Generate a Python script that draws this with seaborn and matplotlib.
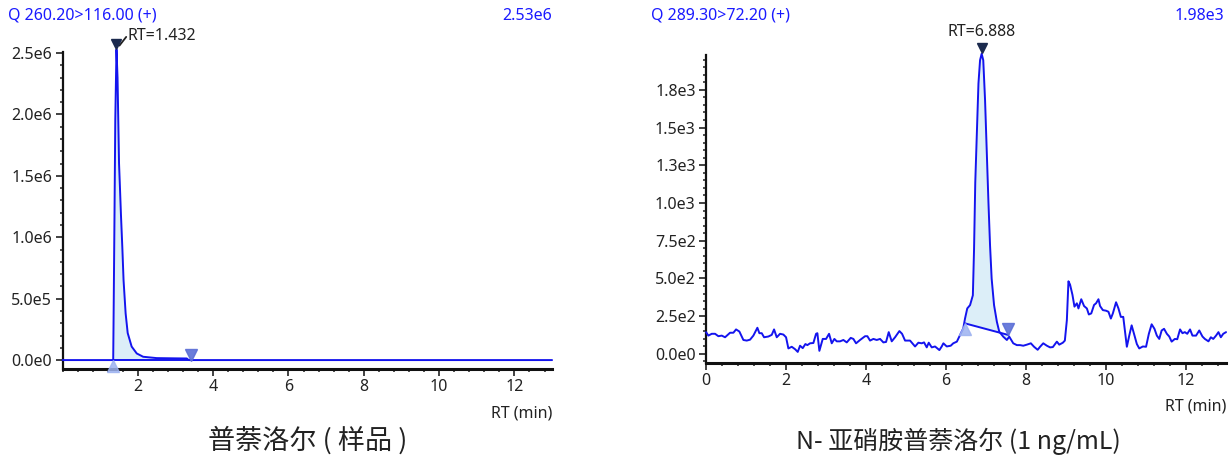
import numpy as np
import matplotlib
matplotlib.use("Agg")
import matplotlib.pyplot as plt
import matplotlib.transforms as mtransforms
from matplotlib.ticker import MultipleLocator
import seaborn as sns

# --- left: 普萘洛尔（样品）, Q 260.20>116.00 ---
left_rt = [0.0, 1.30, 1.345, 1.36, 1.38, 1.40, 1.432, 1.46, 1.48, 1.50, 1.525, 1.55,
           1.587, 1.62, 1.675, 1.73, 1.835, 1.97, 2.14, 2.5, 3.0, 3.3, 3.35, 13.0]
left_int = [0, 0, 0, 5e5, 1.2e6, 1.95e6, 2.53e6, 2.3e6, 1.95e6, 1.6e6, 1.4e6, 1.19e6,
            9.2e5, 6.5e5, 3.8e5, 2.2e5, 1.1e5, 5.4e4, 2.7e4, 1.6e4, 1.4e4, 1.3e4, 0, 0]
left_peak_rt = 1.432
left_limits = [1.33, 3.42]
left_base = [0, 0]
left_yticks = [0, 5e5, 1e6, 1.5e6, 2e6, 2.5e6]
left_yticklabels = ["0.0e0", "5.0e5", "1.0e6", "1.5e6", "2.0e6", "2.5e6"]
left_xticks = [2, 4, 6, 8, 10, 12]

# --- right: N-亚硝胺普萘洛尔 (1 ng/mL), Q 289.30>72.20 ---
right_rt = [0.0, 0.058, 0.142, 0.225, 0.308, 0.392, 0.475, 0.6, 0.683, 0.75, 0.833, 0.933,
            1.017, 1.1, 1.183, 1.283, 1.333, 1.392, 1.45, 1.558, 1.642, 1.7, 1.767, 1.85,
            1.933, 2.0, 2.058, 2.142, 2.225, 2.292, 2.35, 2.417, 2.483, 2.533, 2.6, 2.683,
            2.75, 2.783, 2.833, 2.917, 3.0, 3.075, 3.142, 3.208, 3.267, 3.35, 3.433, 3.517,
            3.617, 3.683, 3.75, 3.85, 3.975, 4.033, 4.1, 4.183, 4.267, 4.35, 4.433, 4.5,
            4.567, 4.642, 4.725, 4.833, 4.9, 4.975, 5.1, 5.225, 5.308, 5.392, 5.45, 5.517,
            5.567, 5.642, 5.725, 5.833, 5.892, 5.933, 6.017, 6.117, 6.18, 6.27, 6.35, 6.43,
            6.475, 6.53, 6.6, 6.67, 6.70, 6.73, 6.77, 6.81, 6.85, 6.89, 6.93, 6.975, 7.02,
            7.06, 7.1, 7.14, 7.2, 7.27, 7.33, 7.43, 7.52, 7.58, 7.68, 7.77, 7.85, 7.93,
            8.02, 8.12, 8.2, 8.29, 8.35, 8.43, 8.52, 8.6, 8.67, 8.77, 8.83, 8.92, 8.97,
            9.02, 9.06, 9.1, 9.16, 9.21, 9.27, 9.31, 9.38, 9.45, 9.52, 9.57, 9.63, 9.7,
            9.75, 9.81, 9.85, 9.92, 10.0, 10.06, 10.12, 10.17, 10.25, 10.31, 10.37, 10.43,
            10.48, 10.52, 10.58, 10.64, 10.7, 10.77, 10.83, 10.92, 11.0, 11.07, 11.14,
            11.21, 11.27, 11.33, 11.39, 11.45, 11.52, 11.58, 11.64, 11.72, 11.78, 11.85,
            11.91, 11.97, 12.03, 12.1, 12.16, 12.25, 12.33, 12.41, 12.47, 12.56, 12.62,
            12.68, 12.75, 12.81, 12.87, 12.93, 13.0]
right_int = [144, 121, 133, 133, 117, 121, 110, 140, 140, 162, 148, 92,
             88, 94, 121, 173, 137, 137, 110, 115, 126, 162, 110, 133,
             128, 110, 36, 47, 31, 13, 54, 38, 65, 58, 70, 72,
             133, 137, 20, 99, 99, 133, 70, 99, 83, 83, 92, 76,
             106, 99, 70, 92, 117, 117, 88, 99, 92, 99, 76, 79,
             144, 83, 110, 151, 133, 88, 88, 49, 74, 70, 76, 43,
             74, 43, 49, 25, 49, 70, 49, 54, 70, 81, 125, 169,
             235, 301, 323, 388, 695, 1134, 1463, 1792, 1946, 1989, 1946, 1682, 1310,
             1002, 717, 498, 323, 213, 147, 114, 92, 114, 70, 58, 58, 54,
             61, 70, 47, 27, 47, 70, 54, 43, 45, 81, 61, 74, 88,
             223, 481, 459, 391, 313, 335, 301, 362, 317, 301, 261, 268, 324,
             335, 362, 317, 290, 286, 279, 234, 268, 342, 301, 245, 245,
             133, 47, 121, 189, 133, 65, 36, 49, 47, 133, 196,
             166, 121, 99, 155, 166, 133, 115, 81, 99, 97, 162,
             137, 144, 133, 162, 121, 121, 155, 115, 99, 83, 110,
             99, 121, 144, 110, 133, 144]
right_peak_rt = 6.888
right_limits = [6.475, 7.56]
right_base = [202, 125]
right_yticks = [0, 250, 500, 750, 1000, 1250, 1500, 1750]
right_yticklabels = ["0.0e0", "2.5e2", "5.0e2", "7.5e2", "1.0e3", "1.3e3", "1.5e3", "1.8e3"]
right_xticks = [0, 2, 4, 6, 8, 10, 12]

sns.set_theme(style="white")
plt.rcParams['font.family'] = ['Noto Sans', 'Noto Sans CJK SC', 'DejaVu Sans']

TRACE = "#1414ee"
FILL = "#dceef8"
APEX = "#1b2a4e"
START = "#9db2f0"
END = "#5b6fd6"
HEAD = "#1a1aff"
FS = 11.5

fig = plt.figure(figsize=(12.29, 4.59), dpi=100)
ax1 = fig.add_axes([0.0509, 0.196, 0.3983, 0.691])
ax2 = fig.add_axes([0.5745, 0.209, 0.4231, 0.671])


def draw(ax, rt, inten, peak_rt, limits, base, ylim, yticks, ylabels, xticks, ytick_minor):
    rt = np.asarray(rt, dtype=float)
    inten = np.asarray(inten, dtype=float)
    # shaded peak area between trace and integration baseline
    mask = (rt > limits[0]) & (rt < limits[1])
    xs = np.concatenate([[limits[0]], rt[mask], [limits[1]]])
    ys = np.interp(xs, rt, inten)
    bl = np.interp(xs, limits, base)
    ax.fill_between(xs, bl, ys, color=FILL, lw=0, zorder=1)
    sns.lineplot(x=rt, y=inten, ax=ax, color=TRACE, lw=1.4, zorder=3)
    for l in ax.lines:
        l.set_clip_on(False)
    ax.plot(limits, base, color=TRACE, lw=1.4, zorder=3)

    fig_tr = fig.dpi_scale_trans
    apex_y = np.interp(peak_rt, rt, inten)
    ax.plot([peak_rt], [apex_y], marker="v", ms=7, color=APEX, clip_on=False, zorder=5,
            transform=ax.transData + mtransforms.ScaledTranslation(0, 4 / 72, fig_tr))
    ax.plot([limits[0]], [base[0]], marker="^", ms=8, color=START, alpha=0.85, clip_on=False, zorder=4,
            transform=ax.transData + mtransforms.ScaledTranslation(0, -4 / 72, fig_tr))
    ax.plot([limits[1]], [base[1]], marker="v", ms=8, color=END, alpha=0.9, clip_on=False, zorder=4,
            transform=ax.transData + mtransforms.ScaledTranslation(0, 4 / 72, fig_tr))

    ax.set_xlim(0, 13)
    ax.set_ylim(*ylim)
    ax.set_yticks(yticks)
    ax.set_yticklabels(ylabels)
    ax.yaxis.set_minor_locator(MultipleLocator(ytick_minor))
    ax.set_xticks(xticks)
    ax.set_xticklabels([str(x) for x in xticks])
    ax.xaxis.set_minor_locator(MultipleLocator(0.4))
    ax.set_xlabel("")
    ax.set_ylabel("")
    for s in ["top", "right"]:
        ax.spines[s].set_visible(False)
    ax.spines["left"].set_color("#111111")
    ax.spines["left"].set_linewidth(1.6)
    ax.spines["bottom"].set_color("#111111")
    ax.spines["bottom"].set_linewidth(2.2)
    ax.tick_params(which="major", direction="out", length=5, width=1.3, color="#333333",
                   labelsize=FS, labelcolor="#222222", pad=2.5, left=True, bottom=True)
    ax.tick_params(which="minor", direction="out", length=2.5, width=1.2, color="#333333",
                   left=True, bottom=True)
    ax.grid(False)
    ax.text(1.0, -0.115, "RT (min)", transform=ax.transAxes, ha="right", va="top",
            fontsize=FS, color="#222222")
    return apex_y


a1 = draw(ax1, left_rt, left_int, left_peak_rt, left_limits, left_base,
          (-7.3e4, 2.51e6), left_yticks, left_yticklabels, left_xticks, 1e5)
a2 = draw(ax2, right_rt, right_int, right_peak_rt, right_limits, right_base,
          (-61, 1980), right_yticks, right_yticklabels, right_xticks, 50)

# apex labels
ax1.annotate("RT=%.3f" % left_peak_rt, xy=(left_peak_rt, a1), xycoords="data",
             xytext=(8, 10), textcoords="offset points", ha="left", va="center",
             fontsize=FS, color="#222222", annotation_clip=False)
ax1.annotate("", xy=(left_peak_rt, a1), xycoords="data",
             xytext=(7, 9), textcoords="offset points", annotation_clip=False,
             arrowprops=dict(arrowstyle="-", color="#222222", lw=1.3, shrinkA=0, shrinkB=3.5))
ax2.annotate("RT=%.3f" % right_peak_rt, xy=(right_peak_rt, a2), xycoords="data",
             xytext=(0, 10), textcoords="offset points", ha="center", va="bottom",
             fontsize=FS, color="#222222", annotation_clip=False)

# header lines above each trace
hy = 1 - 16 / 459
fig.text(8 / 1229, hy, "Q 260.20>116.00 (+)", ha="left", va="center", fontsize=FS, color=HEAD)
fig.text(552 / 1229, hy, "2.53e6", ha="right", va="center", fontsize=FS, color=HEAD)
fig.text(651 / 1229, hy, "Q 289.30>72.20 (+)", ha="left", va="center", fontsize=FS, color=HEAD)
fig.text(1224 / 1229, hy, "1.98e3", ha="right", va="center", fontsize=FS, color=HEAD)

# captions
fig.text(308 / 1229, 1 - 440 / 459, "普萘洛尔 ( 样品 )", ha="center", va="center",
         fontsize=19.5, color="#222222", family=['Noto Sans CJK SC', 'DejaVu Sans'])
fig.text(958 / 1229, 1 - 441 / 459, "N- 亚硝胺普萘洛尔 (1 ng/mL)", ha="center", va="center",
         fontsize=18, color="#222222", family=['Noto Sans CJK SC', 'DejaVu Sans'])

fig.savefig("out.png", dpi=100)
